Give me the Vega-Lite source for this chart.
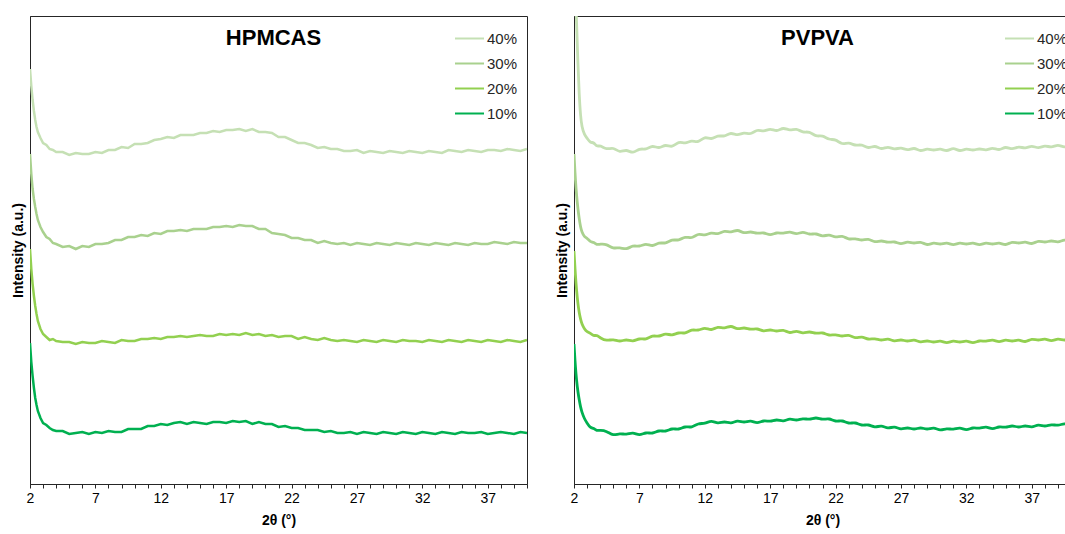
{
  "$schema": "https://vega.github.io/schema/vega-lite/v6.json",
  "padding": {"left": 10, "top": 15, "right": 0, "bottom": 0},
  "background": "white",
  "config": {
    "font": "Liberation Sans",
    "view": {"stroke": "#262626", "strokeWidth": 1},
    "axis": {"grid": false, "domainColor": "#262626", "tickColor": "#262626", "labelColor": "#000000", "titleColor": "#000000"}
  },
  "spacing": 26,
  "datasets": {
    "xrd": [
      {"x": 2, "h40": 415, "h30": 330, "h20": 235, "h10": 141, "p40": 540, "p30": 330, "p20": 233, "p10": 140},
      {"x": 2.1, "h40": 398, "h30": 310, "h20": 215, "h10": 122, "p40": 500, "p30": 305, "p20": 210, "p10": 118},
      {"x": 2.2, "h40": 384, "h30": 295, "h20": 200, "h10": 108, "p40": 460, "p30": 288, "p20": 193, "p10": 103},
      {"x": 2.3, "h40": 373, "h30": 285, "h20": 188, "h10": 96, "p40": 420, "p30": 275, "p20": 180, "p10": 92},
      {"x": 2.4, "h40": 364, "h30": 277, "h20": 178, "h10": 86, "p40": 388, "p30": 265, "p20": 171, "p10": 84},
      {"x": 2.5, "h40": 357, "h30": 270, "h20": 170, "h10": 79, "p40": 368, "p30": 257, "p20": 165, "p10": 77},
      {"x": 2.6, "h40": 352, "h30": 264, "h20": 163, "h10": 73, "p40": 357, "p30": 252, "p20": 160, "p10": 72},
      {"x": 2.8, "h40": 346, "h30": 257, "h20": 155, "h10": 66, "p40": 349, "p30": 247, "p20": 155, "p10": 65},
      {"x": 3, "h40": 341, "h30": 252, "h20": 150, "h10": 61, "p40": 346, "p30": 246, "p20": 152, "p10": 61},
      {"x": 3.25, "h40": 339, "h30": 247, "h20": 147, "h10": 59, "p40": 341, "p30": 242, "p20": 151, "p10": 56},
      {"x": 3.5, "h40": 335, "h30": 245, "h20": 144, "h10": 56, "p40": 342, "p30": 242, "p20": 148, "p10": 56},
      {"x": 3.75, "h40": 334, "h30": 241, "h20": 145, "h10": 54, "p40": 337, "p30": 239, "p20": 149, "p10": 53},
      {"x": 4, "h40": 332, "h30": 240, "h20": 143, "h10": 53, "p40": 339, "p30": 240, "p20": 146, "p10": 54},
      {"x": 4.5, "h40": 332, "h30": 237, "h20": 142, "h10": 53, "p40": 334, "p30": 240, "p20": 143, "p10": 53},
      {"x": 5, "h40": 329, "h30": 238, "h20": 142, "h10": 50, "p40": 337, "p30": 235, "p20": 145, "p10": 48},
      {"x": 5.5, "h40": 331, "h30": 235, "h20": 140, "h10": 51, "p40": 331, "p30": 237, "p20": 142, "p10": 51},
      {"x": 6, "h40": 330, "h30": 238, "h20": 142, "h10": 52, "p40": 335, "p30": 234, "p20": 145, "p10": 49},
      {"x": 6.5, "h40": 330, "h30": 237, "h20": 141, "h10": 50, "p40": 330, "p30": 239, "p20": 142, "p10": 52},
      {"x": 7, "h40": 332, "h30": 240, "h20": 141, "h10": 52, "p40": 336, "p30": 237, "p20": 146, "p10": 48},
      {"x": 7.5, "h40": 331, "h30": 240, "h20": 143, "h10": 51, "p40": 334, "p30": 241, "p20": 144, "p10": 52},
      {"x": 8, "h40": 334, "h30": 241, "h20": 142, "h10": 53, "p40": 339, "p30": 237, "p20": 149, "p10": 50},
      {"x": 8.5, "h40": 334, "h30": 244, "h20": 141, "h10": 52, "p40": 335, "p30": 242, "p20": 147, "p10": 54},
      {"x": 9, "h40": 337, "h30": 244, "h20": 144, "h10": 52, "p40": 340, "p30": 240, "p20": 151, "p10": 52},
      {"x": 9.5, "h40": 336, "h30": 247, "h20": 143, "h10": 55, "p40": 336, "p30": 245, "p20": 148, "p10": 56},
      {"x": 10, "h40": 340, "h30": 247, "h20": 143, "h10": 55, "p40": 343, "p30": 243, "p20": 152, "p10": 54},
      {"x": 10.5, "h40": 340, "h30": 249, "h20": 145, "h10": 55, "p40": 340, "p30": 248, "p20": 150, "p10": 58},
      {"x": 11, "h40": 341, "h30": 248, "h20": 145, "h10": 58, "p40": 344, "p30": 245, "p20": 155, "p10": 56},
      {"x": 11.5, "h40": 344, "h30": 251, "h20": 146, "h10": 58, "p40": 341, "p30": 251, "p20": 153, "p10": 61},
      {"x": 12, "h40": 345, "h30": 250, "h20": 145, "h10": 60, "p40": 348, "p30": 248, "p20": 157, "p10": 60},
      {"x": 12.5, "h40": 347, "h30": 253, "h20": 147, "h10": 59, "p40": 344, "p30": 252, "p20": 153, "p10": 64},
      {"x": 13, "h40": 346, "h30": 253, "h20": 147, "h10": 61, "p40": 349, "p30": 249, "p20": 158, "p10": 60},
      {"x": 13.5, "h40": 349, "h30": 254, "h20": 148, "h10": 62, "p40": 347, "p30": 254, "p20": 155, "p10": 63},
      {"x": 14, "h40": 349, "h30": 253, "h20": 147, "h10": 60, "p40": 352, "p30": 251, "p20": 159, "p10": 60},
      {"x": 14.5, "h40": 349, "h30": 255, "h20": 148, "h10": 62, "p40": 348, "p30": 255, "p20": 154, "p10": 64},
      {"x": 15, "h40": 351, "h30": 255, "h20": 149, "h10": 61, "p40": 352, "p30": 250, "p20": 157, "p10": 61},
      {"x": 15.5, "h40": 351, "h30": 255, "h20": 148, "h10": 60, "p40": 349, "p30": 253, "p20": 154, "p10": 64},
      {"x": 16, "h40": 353, "h30": 257, "h20": 148, "h10": 62, "p40": 355, "p30": 250, "p20": 156, "p10": 60},
      {"x": 16.5, "h40": 352, "h30": 257, "h20": 150, "h10": 62, "p40": 352, "p30": 252, "p20": 152, "p10": 64},
      {"x": 17, "h40": 354, "h30": 258, "h20": 149, "h10": 61, "p40": 356, "p30": 248, "p20": 155, "p10": 62},
      {"x": 17.5, "h40": 354, "h30": 257, "h20": 150, "h10": 63, "p40": 352, "p30": 252, "p20": 152, "p10": 65},
      {"x": 18, "h40": 355, "h30": 259, "h20": 149, "h10": 62, "p40": 357, "p30": 250, "p20": 155, "p10": 62},
      {"x": 18.5, "h40": 353, "h30": 258, "h20": 151, "h10": 63, "p40": 353, "p30": 253, "p20": 150, "p10": 66},
      {"x": 19, "h40": 355, "h30": 258, "h20": 149, "h10": 60, "p40": 356, "p30": 249, "p20": 154, "p10": 63},
      {"x": 19.5, "h40": 352, "h30": 255, "h20": 150, "h10": 62, "p40": 351, "p30": 253, "p20": 150, "p10": 66},
      {"x": 20, "h40": 352, "h30": 255, "h20": 148, "h10": 60, "p40": 353, "p30": 249, "p20": 153, "p10": 64},
      {"x": 20.5, "h40": 351, "h30": 251, "h20": 149, "h10": 60, "p40": 347, "p30": 251, "p20": 150, "p10": 67},
      {"x": 21, "h40": 347, "h30": 250, "h20": 147, "h10": 57, "p40": 349, "p30": 247, "p20": 152, "p10": 64},
      {"x": 21.5, "h40": 347, "h30": 249, "h20": 148, "h10": 58, "p40": 344, "p30": 250, "p20": 148, "p10": 66},
      {"x": 22, "h40": 344, "h30": 246, "h20": 148, "h10": 56, "p40": 345, "p30": 246, "p20": 150, "p10": 62},
      {"x": 22.5, "h40": 341, "h30": 246, "h20": 145, "h10": 56, "p40": 339, "p30": 249, "p20": 147, "p10": 64},
      {"x": 23, "h40": 341, "h30": 244, "h20": 147, "h10": 54, "p40": 342, "p30": 244, "p20": 150, "p10": 60},
      {"x": 23.5, "h40": 339, "h30": 244, "h20": 145, "h10": 54, "p40": 338, "p30": 246, "p20": 145, "p10": 62},
      {"x": 24, "h40": 336, "h30": 241, "h20": 144, "h10": 54, "p40": 340, "p30": 243, "p20": 148, "p10": 58},
      {"x": 24.5, "h40": 337, "h30": 243, "h20": 146, "h10": 52, "p40": 335, "p30": 246, "p20": 144, "p10": 60},
      {"x": 25, "h40": 335, "h30": 241, "h20": 144, "h10": 53, "p40": 339, "p30": 241, "p20": 146, "p10": 56},
      {"x": 25.5, "h40": 335, "h30": 240, "h20": 143, "h10": 51, "p40": 334, "p30": 244, "p20": 143, "p10": 59},
      {"x": 26, "h40": 333, "h30": 241, "h20": 144, "h10": 51, "p40": 338, "p30": 241, "p20": 146, "p10": 55},
      {"x": 26.5, "h40": 333, "h30": 239, "h20": 143, "h10": 52, "p40": 334, "p30": 243, "p20": 142, "p10": 58},
      {"x": 27, "h40": 334, "h30": 241, "h20": 142, "h10": 50, "p40": 337, "p30": 239, "p20": 145, "p10": 54},
      {"x": 27.5, "h40": 331, "h30": 240, "h20": 144, "h10": 52, "p40": 333, "p30": 243, "p20": 142, "p10": 57},
      {"x": 28, "h40": 333, "h30": 239, "h20": 143, "h10": 51, "p40": 337, "p30": 240, "p20": 145, "p10": 54},
      {"x": 28.5, "h40": 332, "h30": 241, "h20": 142, "h10": 50, "p40": 332, "p30": 243, "p20": 141, "p10": 57},
      {"x": 29, "h40": 331, "h30": 240, "h20": 144, "h10": 52, "p40": 336, "p30": 238, "p20": 144, "p10": 54},
      {"x": 29.5, "h40": 333, "h30": 239, "h20": 143, "h10": 51, "p40": 333, "p30": 242, "p20": 141, "p10": 57},
      {"x": 30, "h40": 332, "h30": 241, "h20": 142, "h10": 50, "p40": 336, "p30": 239, "p20": 144, "p10": 53},
      {"x": 30.5, "h40": 331, "h30": 240, "h20": 144, "h10": 52, "p40": 332, "p30": 242, "p20": 140, "p10": 56},
      {"x": 31, "h40": 333, "h30": 239, "h20": 143, "h10": 51, "p40": 337, "p30": 238, "p20": 144, "p10": 54},
      {"x": 31.5, "h40": 332, "h30": 241, "h20": 143, "h10": 50, "p40": 332, "p30": 242, "p20": 141, "p10": 57},
      {"x": 32, "h40": 331, "h30": 240, "h20": 142, "h10": 52, "p40": 336, "p30": 239, "p20": 144, "p10": 53},
      {"x": 32.5, "h40": 333, "h30": 239, "h20": 144, "h10": 51, "p40": 333, "p30": 242, "p20": 140, "p10": 57},
      {"x": 33, "h40": 332, "h30": 241, "h20": 143, "h10": 50, "p40": 336, "p30": 238, "p20": 144, "p10": 55},
      {"x": 33.5, "h40": 331, "h30": 240, "h20": 142, "h10": 52, "p40": 333, "p30": 242, "p20": 142, "p10": 58},
      {"x": 34, "h40": 334, "h30": 239, "h20": 144, "h10": 51, "p40": 337, "p30": 239, "p20": 145, "p10": 54},
      {"x": 34.5, "h40": 333, "h30": 241, "h20": 143, "h10": 50, "p40": 333, "p30": 242, "p20": 141, "p10": 58},
      {"x": 35, "h40": 332, "h30": 240, "h20": 142, "h10": 52, "p40": 338, "p30": 238, "p20": 145, "p10": 56},
      {"x": 35.5, "h40": 334, "h30": 239, "h20": 144, "h10": 51, "p40": 334, "p30": 243, "p20": 142, "p10": 59},
      {"x": 36, "h40": 333, "h30": 241, "h20": 143, "h10": 51, "p40": 338, "p30": 240, "p20": 145, "p10": 56},
      {"x": 36.5, "h40": 332, "h30": 240, "h20": 142, "h10": 52, "p40": 335, "p30": 243, "p20": 141, "p10": 59},
      {"x": 37, "h40": 334, "h30": 240, "h20": 144, "h10": 50, "p40": 339, "p30": 239, "p20": 146, "p10": 56},
      {"x": 37.5, "h40": 334, "h30": 242, "h20": 143, "h10": 51, "p40": 335, "p30": 244, "p20": 143, "p10": 60},
      {"x": 38, "h40": 333, "h30": 241, "h20": 142, "h10": 52, "p40": 339, "p30": 241, "p20": 146, "p10": 57},
      {"x": 38.5, "h40": 335, "h30": 240, "h20": 144, "h10": 51, "p40": 336, "p30": 244, "p20": 142, "p10": 60},
      {"x": 39, "h40": 334, "h30": 242, "h20": 143, "h10": 50, "p40": 340, "p30": 241, "p20": 146, "p10": 58},
      {"x": 39.5, "h40": 333, "h30": 241, "h20": 142, "h10": 52, "p40": 336, "p30": 245, "p20": 143, "p10": 61},
      {"x": 40, "h40": 335, "h30": 241, "h20": 144, "h10": 51, "p40": 339, "p30": 242, "p20": 146, "p10": 59}
    ]
  },
  "hconcat": [
    {
      "width": 497,
      "height": 468,
      "title": {"text": "HPMCAS", "fontSize": 22, "fontWeight": "bold", "color": "#000000", "anchor": "middle", "offset": -34, "dx": -5},
      "data": {"name": "xrd"},
      "transform": [{"fold": ["h40", "h30", "h20", "h10"], "as": ["series", "intensity"]}],
      "mark": {"type": "line", "strokeWidth": 2.5, "clip": true},
      "encoding": {
        "x": {"field": "x", "type": "quantitative", "scale": {"domain": [2, 40], "nice": false, "zero": false},
          "axis": {"title": "2θ (°)", "values": [2,3,4,5,6,7,8,9,10,11,12,13,14,15,16,17,18,19,20,21,22,23,24,25,26,27,28,29,30,31,32,33,34,35,36,37,38,39,40],
            "labelExpr": "(datum.value - 2) % 5 == 0 ? datum.label : ''", "labelOverlap": false, "labelFlush": false,
            "tickSize": 4, "labelFontSize": 14, "labelPadding": 3, "titleFontSize": 14, "titleFontWeight": "bold", "titlePadding": 8}},
        "y": {"field": "intensity", "type": "quantitative", "scale": {"domain": [0, 468], "nice": false, "zero": false},
          "axis": {"title": "Intensity (a.u.)", "labels": false, "ticks": false, "titleFontSize": 14, "titleFontWeight": "bold", "titlePadding": 5}},
        "color": {"field": "series", "type": "nominal",
          "scale": {"domain": ["h40", "h30", "h20", "h10"], "range": ["#c5e0b4", "#a9d18e", "#92d050", "#00b050"]},
          "legend": {"title": null, "orient": "none", "legendX": 424, "legendY": 7, "symbolType": "stroke", "symbolSize": 841, "symbolStrokeWidth": 2,
            "labelExpr": "substring(datum.label, 1) + '%'", "labelFontSize": 15, "labelColor": "#262626", "labelOffset": 2, "rowPadding": 1, "padding": 0}}
      }
    },
    {
      "width": 497,
      "height": 468,
      "title": {"text": "PVPVA", "fontSize": 22, "fontWeight": "bold", "color": "#000000", "anchor": "middle", "offset": -34, "dx": -5},
      "data": {"name": "xrd"},
      "transform": [{"fold": ["p40", "p30", "p20", "p10"], "as": ["series", "intensity"]}],
      "mark": {"type": "line", "strokeWidth": 2.8, "clip": true, "interpolate": "basis"},
      "encoding": {
        "x": {"field": "x", "type": "quantitative", "scale": {"domain": [2, 40], "nice": false, "zero": false},
          "axis": {"title": "2θ (°)", "values": [2,3,4,5,6,7,8,9,10,11,12,13,14,15,16,17,18,19,20,21,22,23,24,25,26,27,28,29,30,31,32,33,34,35,36,37,38,39,40],
            "labelExpr": "(datum.value - 2) % 5 == 0 ? datum.label : ''", "labelOverlap": false, "labelFlush": false,
            "tickSize": 4, "labelFontSize": 14, "labelPadding": 3, "titleFontSize": 14, "titleFontWeight": "bold", "titlePadding": 8}},
        "y": {"field": "intensity", "type": "quantitative", "scale": {"domain": [0, 468], "nice": false, "zero": false},
          "axis": {"title": "Intensity (a.u.)", "labels": false, "ticks": false, "titleFontSize": 14, "titleFontWeight": "bold", "titlePadding": 5}},
        "color": {"field": "series", "type": "nominal",
          "scale": {"domain": ["p40", "p30", "p20", "p10"], "range": ["#c5e0b4", "#a9d18e", "#92d050", "#00b050"]},
          "legend": {"title": null, "orient": "none", "legendX": 430, "legendY": 7, "symbolType": "stroke", "symbolSize": 841, "symbolStrokeWidth": 2,
            "labelExpr": "substring(datum.label, 1) + '%'", "labelFontSize": 15, "labelColor": "#262626", "labelOffset": 2, "rowPadding": 1, "padding": 0}}
      }
    }
  ],
  "resolve": {"scale": {"color": "independent"}, "legend": {"color": "independent"}}
}
